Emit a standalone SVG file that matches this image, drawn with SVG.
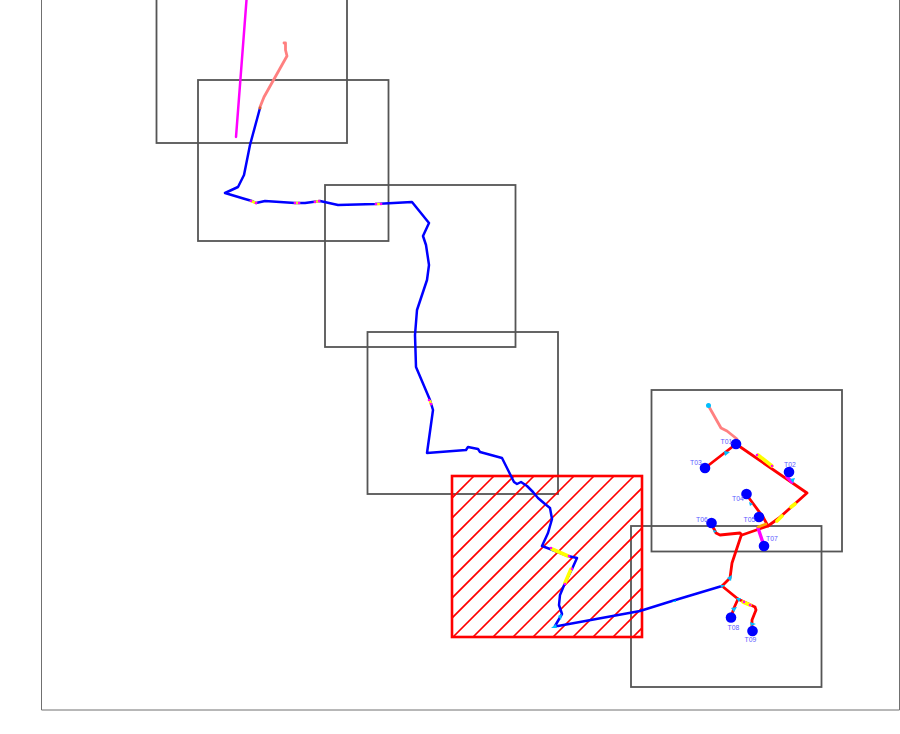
<svg xmlns="http://www.w3.org/2000/svg" width="900" height="734" viewBox="0 0 900 734">
<style>
.frame{fill:none;stroke:#707070;stroke-width:1}
.box{fill:none;stroke:#555;stroke-width:1.8}
.r{fill:none;stroke-linecap:round;stroke-linejoin:round;stroke-width:2.5}
.blue{stroke:#0000ff}.red{stroke:#ff0000;stroke-width:2.8}.sal{stroke:#ff8080;stroke-width:2.8}
.yel{stroke:#ffff00;stroke-width:3.6}
.mag{stroke:#ff00ff;stroke-width:3.4}
.cy{fill:#00bfff}
.d{fill:#ff00ff}
.n{fill:#0000ff}
.dot{fill:#e06020}
text{font-family:"Liberation Sans",Arial,sans-serif;font-size:6.8px;fill:#5a5aff}
.h{stroke:#ff0000;stroke-width:1.6;fill:none}
</style>
<defs>
<clipPath id="hc"><rect x="452" y="476" width="190" height="161"/></clipPath>
</defs>
<rect width="900" height="734" fill="#ffffff"/>
<path class="frame" d="M41.500 0V710H899.500V0"/>
<g id="boxes">
<rect class="box" x="156.500" y="-20" width="190.500" height="163"/>
<rect class="box" x="198" y="80" width="190.500" height="161"/>
<rect class="box" x="325" y="185" width="190.500" height="162"/>
<rect class="box" x="367.500" y="332" width="190.500" height="162"/>
<rect class="box" x="651.500" y="390" width="190.500" height="161.500"/>
<rect class="box" x="631" y="526" width="190.500" height="161"/>
</g>
<g id="hatched-zone">
<g clip-path="url(#hc)">
<path class="h" d="M474 476L313 637M494 476L333 637M514 476L353 637M534 476L373 637M554 476L393 637M574 476L413 637M594 476L433 637M614 476L453 637M634 476L473 637M654 476L493 637M674 476L513 637M694 476L533 637M714 476L553 637M734 476L573 637M754 476L593 637M774 476L613 637M794 476L633 637M814 476L653 637"/>
</g>
<rect x="452" y="476" width="190" height="161" fill="none" stroke="#ff0000" stroke-width="2.6"/>
</g>
<g id="connectors">
<path class="r" stroke="#ff00ff" d="M246.500 0L236 137"/>
<path class="r sal" d="M260 107L264 97L287 56L285.500 50L285.500 43L284 43"/>
<path class="r blue" d="M260 108L250 145L244 175L238 187L225 193L245 199L252 201L256 203L265 201L295 203L305 203L320 201L338 205L375 204L412 202L429 223L423 236L426 245L429 265L427 280L417 310L415 335L416 367L430 400L433 410L427 453L466 450L468 447L478 449L480 452L502 458L508 470L514 482L517 484L521 482L527 486L533 492L538 498L545 504L550 508L552 519L548 533L542 546L550 549L568 556L577 558L572 569L565 583L560 595L559 605L562 614L555 626L558 626L640 611L672 601L722 586"/>
<path class="r sal" d="M708 405L721 428L727 431L737 439"/>
<path class="r red" d="M705 468L736 444L807 493L779 518L768 526L742 535L740 533L720 535L716 533L711 523"/>
<path class="r red" d="M747 494L749 498L763 517L768 526"/>
<path class="r red" d="M741 536L732 563L730 578L722 586L738 599L755 607L756 610L752 620L752 631"/>
<path class="r red" d="M738 599L734 608L731 617"/>
<g class="r">
<path class="yel" d="M758 455L772 466M777 521L782 516M791 507L795 504M743 602L750 605M552 549L568 556M571 569L565 583"/>
<path stroke="#ffff00" stroke-width="2.600" d="M251 201L256 203M295 203L299 203M315 202L319 201M376 204L381 204M430 401L431 404"/>
<path class="mag" d="M758 528L764 546M787 477L792 482"/>
<path stroke="#ffa500" d="M758 527L766 524" stroke-width="2.600"/>
</g>
<g class="d">
<circle cx="757" cy="455" r="1.300"/><circle cx="772" cy="466" r="1.300"/><circle cx="744" cy="602" r="1.300"/><circle cx="750" cy="605" r="1.300"/>
<circle cx="551" cy="548" r="1.300"/><circle cx="569" cy="556" r="1.300"/><circle cx="572" cy="569" r="1.300"/><circle cx="565" cy="584" r="1.300"/>
<circle cx="251" cy="201" r="1.300"/><circle cx="256" cy="203" r="1.300"/><circle cx="295" cy="203" r="1.300"/><circle cx="299" cy="203" r="1.300"/><circle cx="315" cy="202" r="1.300"/><circle cx="319" cy="201" r="1.300"/><circle cx="376" cy="204" r="1.300"/><circle cx="381" cy="204" r="1.300"/>
<circle cx="429" cy="400" r="1.300"/><circle cx="431" cy="404" r="1.300"/>
</g>
<g class="cy">
<circle cx="708.500" cy="405.500" r="2.500"/>
<path d="M724 451L730 452L725 456Z"/>
<path d="M790 479L795 478L793 483Z"/>
<path d="M749 502L753 504L750 506Z"/>
<path d="M713 530L717 531L714 533Z"/>
<path d="M727 578L732 575L731 581Z"/>
<path d="M720 585L725 585L722 588Z"/>
<path d="M736 598L741 598L739 602Z"/>
<path d="M731 608L737 607L734 612Z"/>
<path d="M750 622L756 624L751 626Z"/>
<path d="M551 628L556 624L557 628Z"/>
<path d="M558 616L562 614L561 620Z"/>
<path d="M672 602L676 600L676 602Z"/>
</g>
<circle class="dot" cx="260" cy="108" r="1.500"/>
</g>
<g id="T01"><circle class="n" cx="736" cy="444" r="5.300"/><text x="720.500" y="444">T01</text></g>
<g id="T02"><circle class="n" cx="789" cy="472" r="5.300"/><text x="784" y="466.500">T02</text></g>
<g id="T03"><circle class="n" cx="705" cy="468" r="5.300"/><text x="690" y="464.500">T03</text></g>
<g id="T04"><circle class="n" cx="746.500" cy="494" r="5.300"/><text x="732" y="501">T04</text></g>
<g id="T05"><circle class="n" cx="759" cy="517" r="5.300"/><text x="743.500" y="522">T05</text></g>
<g id="T06"><circle class="n" cx="711.500" cy="523" r="5.300"/><text x="696" y="522">T06</text></g>
<g id="T07"><circle class="n" cx="764" cy="546" r="5.300"/><text x="766" y="541">T07</text></g>
<g id="T08"><circle class="n" cx="731" cy="617.500" r="5.300"/><text x="727.500" y="629.500">T08</text></g>
<g id="T09"><circle class="n" cx="752.500" cy="631" r="5.300"/><text x="744.500" y="642">T09</text></g>
</svg>
